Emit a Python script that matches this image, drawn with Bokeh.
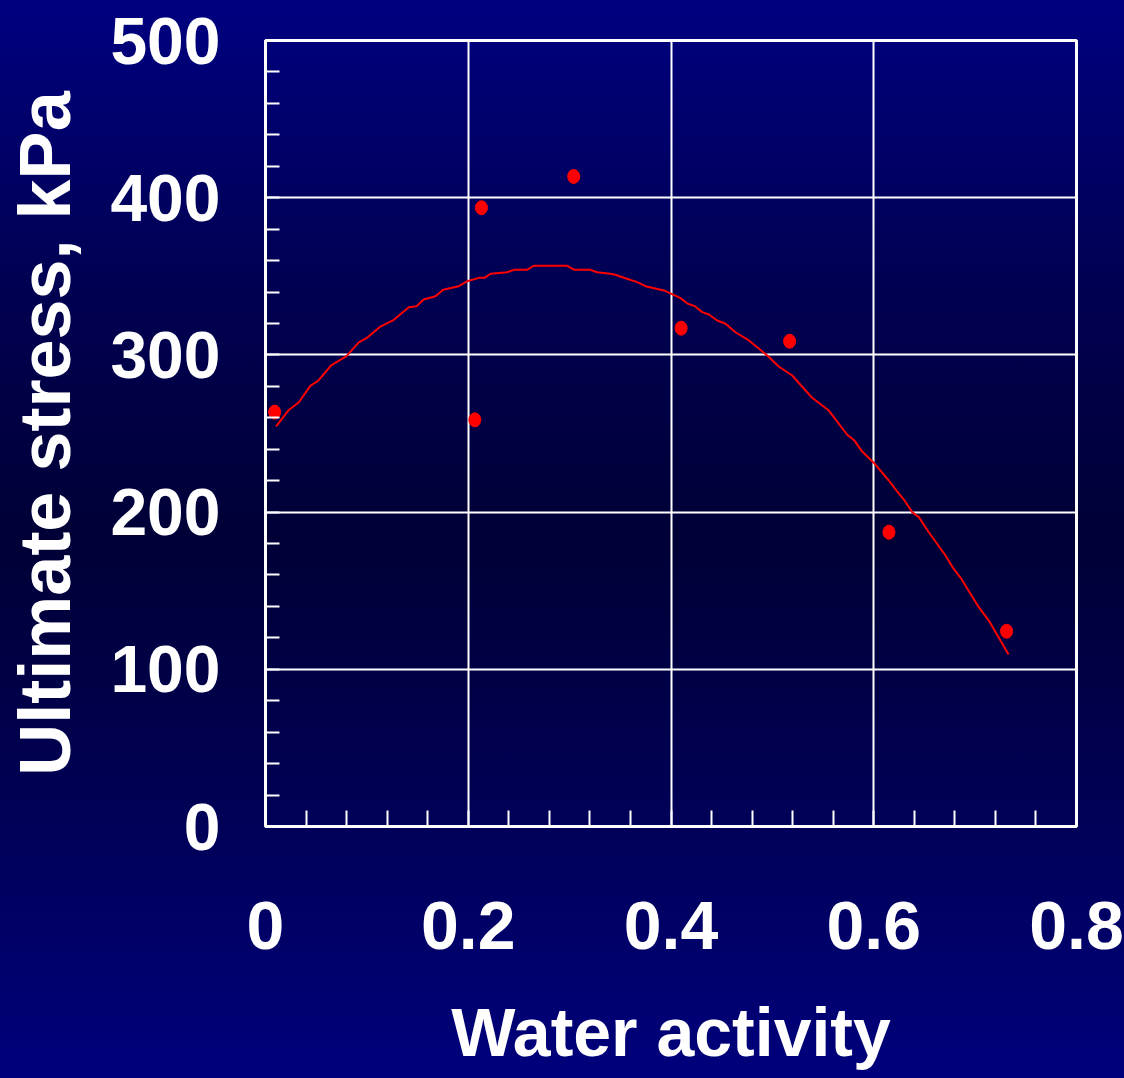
from bokeh.plotting import figure
from bokeh.models import FixedTicker, Range1d
from bokeh.embed import file_html
from bokeh.resources import INLINE

# Observed data (water activity vs ultimate stress, kPa)
obs_aw = [0.009, 0.2065, 0.213, 0.304, 0.410, 0.517, 0.615, 0.731]
obs_stress = [263.6, 258.7, 393.6, 413.5, 317.0, 308.7, 187.2, 124.2]

# Fitted curve
fit_aw = [0.0105, 0.023, 0.0329, 0.0444, 0.0516, 0.0648, 0.0799, 0.092, 0.0996,
          0.1134, 0.1266, 0.1414, 0.149, 0.156, 0.1677, 0.1753, 0.1907, 0.199,
          0.2104, 0.216, 0.222, 0.2384, 0.245, 0.258, 0.2647, 0.2976, 0.3048,
          0.3206, 0.327, 0.340, 0.345, 0.355, 0.3667, 0.3748, 0.393, 0.409,
          0.4166, 0.4235, 0.4308, 0.4373, 0.4456, 0.4538, 0.4636, 0.4768, 0.495,
          0.5063, 0.5196, 0.5277, 0.5393, 0.5557, 0.5738, 0.581, 0.5886, 0.601,
          0.6148, 0.6225, 0.6297, 0.6379, 0.6445, 0.6543, 0.6708, 0.6784, 0.6863,
          0.7036, 0.7135, 0.733]
fit_stress = [254.6, 265.0, 269.9, 280.5, 283.3, 293.3, 299.2, 308.0, 310.6,
              318.0, 322.3, 330.3, 331.0, 335.2, 337.3, 341.4, 343.7, 346.9,
              349.0, 349.0, 351.6, 352.6, 354.1, 354.1, 356.7, 356.7, 354.1,
              354.1, 352.6, 351.6, 351.0, 348.8, 346.3, 343.7, 341.0, 336.3,
              332.5, 331.0, 327.2, 325.7, 321.9, 319.8, 314.4, 309.2, 299.6,
              292.6, 286.9, 281.0, 272.7, 264.6, 249.2, 245.5, 238.5, 230.7,
              220.1, 213.7, 208.0, 200.0, 196.8, 187.2, 172.4, 164.3, 157.6,
              139.5, 131.0, 109.4]

x_ticks = [0, 0.2, 0.4, 0.6, 0.8]
x_tick_labels = ["0", "0.2", "0.4", "0.6", "0.8"]
x_minor = [0.04, 0.08, 0.12, 0.16, 0.24, 0.28, 0.32, 0.36, 0.44, 0.48, 0.52,
           0.56, 0.64, 0.68, 0.72, 0.76]
y_ticks = [0, 100, 200, 300, 400, 500]
y_tick_labels = ["0", "100", "200", "300", "400", "500"]
y_minor = [20, 40, 60, 80, 120, 140, 160, 180, 220, 240, 260, 280, 320, 340,
           360, 380, 420, 440, 460, 480]
x_title = "Water activity"
y_title = "Ultimate stress, kPa"

FONT = "'Liberation Sans', Arial, sans-serif"

p = figure(width=1124, height=1078, output_backend="svg", toolbar_location=None,
           x_range=Range1d(0, 0.8), y_range=Range1d(0, 500),
           min_border_left=265, min_border_right=48, min_border_top=40,
           min_border_bottom=252)

p.background_fill_alpha = 0
p.border_fill_alpha = 0
p.styles = {"background": "linear-gradient(to bottom, #000080 0%, #000054 25%, #000036 50%, #000054 74%, #00007c 100%)"}

p.outline_line_color = "white"
p.outline_line_width = 3

p.xaxis.ticker = FixedTicker(ticks=x_ticks, minor_ticks=x_minor)
p.yaxis.ticker = FixedTicker(ticks=y_ticks, minor_ticks=y_minor)
p.xaxis.major_label_overrides = dict(zip(x_ticks, x_tick_labels))
p.yaxis.major_label_overrides = dict(zip(y_ticks, y_tick_labels))

for ax in (p.xaxis, p.yaxis):
    ax.axis_line_color = "white"
    ax.axis_line_width = 3
    ax.major_tick_line_color = "white"
    ax.major_tick_line_width = 2
    ax.major_tick_out = 0
    ax.minor_tick_line_color = "white"
    ax.minor_tick_line_width = 2
    ax.minor_tick_out = 0
    ax.major_label_text_color = "white"
    ax.major_label_text_font_style = "bold"
    ax.major_label_text_font = FONT
    ax.axis_label_text_color = "white"
    ax.axis_label_text_font_style = "bold"
    ax.axis_label_text_font = FONT

p.xaxis.major_tick_in = 16
p.xaxis.minor_tick_in = 16
p.yaxis.major_tick_in = 14
p.yaxis.minor_tick_in = 14

p.xaxis.major_label_text_font_size = "68px"
p.xaxis.major_label_standoff = 75
p.xaxis.axis_label = x_title
p.xaxis.axis_label_text_font_size = "68px"
p.xaxis.axis_label_standoff = 42

p.yaxis.major_label_text_font_size = "66px"
p.yaxis.major_label_standoff = 45
p.yaxis.axis_label = y_title
p.yaxis.axis_label_text_font_size = "72px"
p.yaxis.axis_label_standoff = 22

p.xgrid.grid_line_color = "white"
p.xgrid.grid_line_width = 2
p.ygrid.grid_line_color = "white"
p.ygrid.grid_line_width = 2

p.line(fit_aw, fit_stress, line_color="red", line_width=2)
p.ellipse(obs_aw, obs_stress, width=12, height=14, width_units="screen",
          height_units="screen", fill_color="red", line_color="red")

open("out.html", "w").write(file_html(p, INLINE))
